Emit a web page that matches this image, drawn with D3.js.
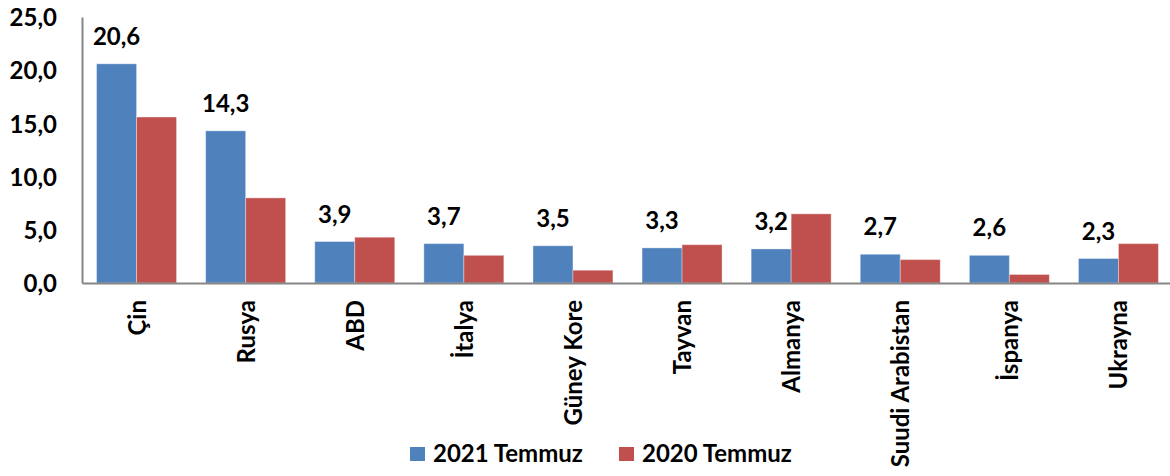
<!DOCTYPE html>
<html>
<head>
<meta charset="utf-8">
<script src="https://cdn.jsdelivr.net/npm/d3@7"></script>
<style>
  body { margin: 0; background: #fff; }
  text { font-family: Lato, "Open Sans", sans-serif; font-weight: bold; fill: #000; }
</style>
</head>
<body>
<div id="chart"></div>
<script>
// Data
var countries = ["Çin", "Rusya", "ABD", "İtalya", "Güney Kore", "Tayvan", "Almanya", "Suudi Arabistan", "İspanya", "Ukrayna"];
var temmuz2021 = [20.6, 14.3, 3.9, 3.7, 3.5, 3.3, 3.2, 2.7, 2.6, 2.3];
var temmuz2020 = [15.6, 8.0, 4.3, 2.6, 1.2, 3.6, 6.5, 2.2, 0.8, 3.7];
var seriesNames = ["2021 Temmuz", "2020 Temmuz"];
var yTicks = [0, 5, 10, 15, 20, 25];

var width = 1170,
    height = 476,
    margin = {top: 17, left: 82, right: -3, bottom: 193};

var colors = ["#4F81BD", "#C0504D"];

var svg = d3.select("#chart").append("svg")
    .attr("width", width)
    .attr("height", height);

var x = d3.scaleBand()
    .domain(countries)
    .range([margin.left, width - margin.right])
    .paddingInner(0.267)
    .paddingOuter(0.1335);

var x1 = d3.scaleBand()
    .domain([0, 1])
    .range([0, x.bandwidth()]);

var y = d3.scaleLinear()
    .domain([0, 25])
    .range([height - margin.bottom, margin.top]);

var fmt = function(v) { return v.toFixed(1).replace(".", ","); };

// bars
var groups = svg.append("g").selectAll("g")
    .data(countries)
  .enter().append("g")
    .attr("transform", function(d) { return "translate(" + x(d) + ",0)"; });

groups.selectAll("rect")
    .data(function(d, i) { return [temmuz2021[i], temmuz2020[i]]; })
  .enter().append("rect")
    .attr("x", function(d, j) { return x1(j); })
    .attr("width", x1.bandwidth())
    .attr("y", function(d) { return y(d); })
    .attr("height", function(d) { return y(0) - y(d); })
    .attr("fill", function(d, j) { return colors[j]; })
    .attr("stroke", "#fff")
    .attr("stroke-opacity", 0.35)
    .attr("stroke-width", 1);

// value labels for 2021
groups.append("text")
    .attr("x", x1(0) + x1.bandwidth() / 2)
    .attr("y", function(d, i) { return y(temmuz2021[i]) - 19; })
    .attr("text-anchor", "middle")
    .style("font-size", "24px")
    .text(function(d, i) { return fmt(temmuz2021[i]); });

// y axis
var yAxis = svg.append("g")
    .attr("transform", "translate(" + margin.left + ",0)")
    .call(d3.axisLeft(y).tickValues(yTicks).tickSize(0).tickPadding(25).tickFormat(fmt));
yAxis.select(".domain").attr("stroke", "#868686").attr("stroke-width", 2);
yAxis.selectAll("text").style("font-size", "24px").style("font-family", null).attr("dy", "0.36em");

// x axis
var xAxis = svg.append("g")
    .attr("transform", "translate(0," + y(0) + ")")
    .call(d3.axisBottom(x).tickSize(0).tickFormat(""));
xAxis.select(".domain").attr("stroke", "#868686").attr("stroke-width", 2);

svg.append("g").selectAll("text")
    .data(countries)
  .enter().append("text")
    .attr("transform", function(d) {
      return "translate(" + (x(d) + x.bandwidth() / 2 + 9) + "," + (y(0) + 17) + ") rotate(-90)";
    })
    .attr("text-anchor", "end")
    .style("font-size", "24px")
    .text(function(d) { return d; });

// legend
var legend = svg.append("g").selectAll("g")
    .data(seriesNames)
  .enter().append("g")
    .attr("transform", function(d, i) { return "translate(" + (410 + i * 209) + ",447)"; });

legend.append("rect")
    .attr("width", 15)
    .attr("height", 14)
    .attr("fill", function(d, i) { return colors[i]; });

legend.append("text")
    .attr("x", 23)
    .attr("y", 15)
    .style("font-size", "24px")
    .text(function(d) { return d; });
</script>
</body>
</html>
